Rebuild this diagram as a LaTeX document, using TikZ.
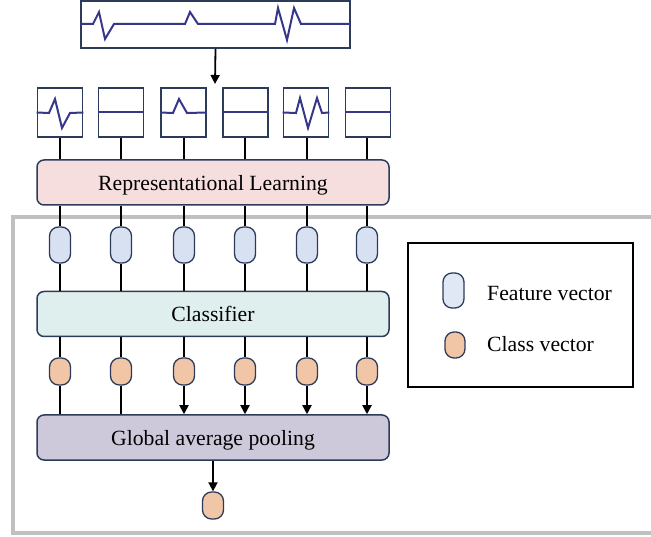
\documentclass[tikz,border=0pt]{standalone}
\usepackage{fontspec}
\setmainfont{Liberation Serif}
\usetikzlibrary{arrows.meta}

\definecolor{navy}{HTML}{2C3B5A}
\definecolor{wavecol}{HTML}{363789}
\definecolor{repfill}{HTML}{F6DEDE}
\definecolor{clsfill}{HTML}{DFEFEE}
\definecolor{gapfill}{HTML}{CDC9DB}
\definecolor{featfill}{HTML}{D8E1F2}
\definecolor{featlight}{HTML}{E1E8F5}
\definecolor{classfill}{HTML}{F0C6A6}
\definecolor{framegray}{HTML}{C0C0C0}

\tikzset{
  lbl/.style={font=\fontsize{21.7}{26}\selectfont},
  block/.style={lbl, draw=navy, line width=1.5pt, rounded corners=7pt,
    minimum width=352pt, minimum height=45pt, inner sep=0pt, text depth=0pt},
  sigbox/.style={draw=navy, line width=1.8pt, fill=white, inner sep=0pt},
  featv/.style={draw=navy, line width=1.3pt, fill=featfill, rounded corners=9pt,
    minimum width=21pt, minimum height=36pt, inner sep=0pt},
  classv/.style={draw=navy, line width=1.3pt, fill=classfill, rounded corners=9pt,
    minimum width=21pt, minimum height=27pt, inner sep=0pt},
  waveline/.style={draw=wavecol, line width=2pt},
  link/.style={draw=black, line width=1.8pt},
  arr/.style={link, -{Triangle[length=9pt,width=9pt]}},
}

\begin{document}
\begin{tikzpicture}[x=1pt,y=-1pt]
\useasboundingbox (0,0) rectangle (651,537);

% grey frame around the classification stage (open on the right)
\draw[framegray, line width=4pt] (660,217) -- (13,217) -- (13,533) -- (660,533);

% input signal
\node[sigbox, minimum width=269pt, minimum height=47pt] (sig) at (215.5,24.5) {};
\draw[waveline] (sig.west |- 0,24) -- (93,24) -- (99,12) -- (105,39) -- (114,24)
  -- (185,24) -- (190,12) -- (198,24) -- (275,24) -- (278,8) -- (287,40)
  -- (294,8) -- (301,24) -- (sig.east |- 0,24);
\coordinate (split) at (215,84);
\draw[arr] (sig.south) -- (split);

% signal segments
\foreach \n/\x in {1/60,2/121,3/183.5,4/245.5,5/306,6/368}{
  \node[sigbox, minimum width=45pt, minimum height=49pt] (b\n) at (\x,112.5) {};
}
\draw[waveline] (b1.west) -- (49,113) -- (55,99) -- (62,128) -- (70,113) -- (b1.east);
\draw[waveline] (b2.west) -- (b2.east);
\draw[waveline] (b3.west) -- (173,113) -- (179,99) -- (187,113) -- (b3.east);
\draw[waveline] (b4.west) -- (b4.east);
\draw[waveline] (b5.west) -- (296,113) -- (300,98) -- (308,128) -- (317,98) -- (322,113) -- (b5.east);
\draw[waveline] (b6.west) -- (b6.east);

% processing blocks
\node[block, fill=repfill] (rep) at (213,182.5) {Representational Learning};
\node[block, fill=clsfill] (cls) at (213,314) {Classifier};
\node[block, fill=gapfill] (gap) at (213,437.5) {Global average pooling};

% feature and class vectors per segment
\foreach \n/\x in {1/60,2/121,3/184,4/245,5/307,6/367}{
  \node[featv] (f\n) at (\x,245) {};
  \node[classv] (c\n) at (\x,371.5) {};
  \draw[link] (b\n.south -| f\n) -- (rep.north -| f\n);
  \draw[link] (rep.south -| f\n) -- (f\n.north);
  \draw[link] (f\n.south) -- (cls.north -| f\n);
  \draw[link] (cls.south -| c\n) -- (c\n.north);
}
\draw[link] (c1.south) -- (gap.north -| c1);
\draw[link] (c2.south) -- (gap.north -| c2);
\foreach \n in {3,4,5,6}{
  \draw[arr] (c\n.south) -- (gap.north -| c\n);
}

% pooled output
\node[classv] (out) at (213,505.5) {};
\draw[arr] (gap.south) -- (out.north);

% legend
\node[draw=black, line width=2.5pt, minimum width=225pt, minimum height=144pt,
  inner sep=0pt] (legend) at (520.5,315) {};
\node[featv, fill=featlight, minimum height=35pt] (lf) at (453.5,290.5) {};
\node[classv, minimum width=20pt, minimum height=26pt] (lc) at (455,345) {};
\node[lbl, anchor=west, inner sep=0pt, text depth=0pt] (lft) at (487,293) {Feature vector};
\node[lbl, anchor=west, inner sep=0pt, text depth=0pt] (lct) at (487,344) {Class vector};
\end{tikzpicture}
\end{document}
